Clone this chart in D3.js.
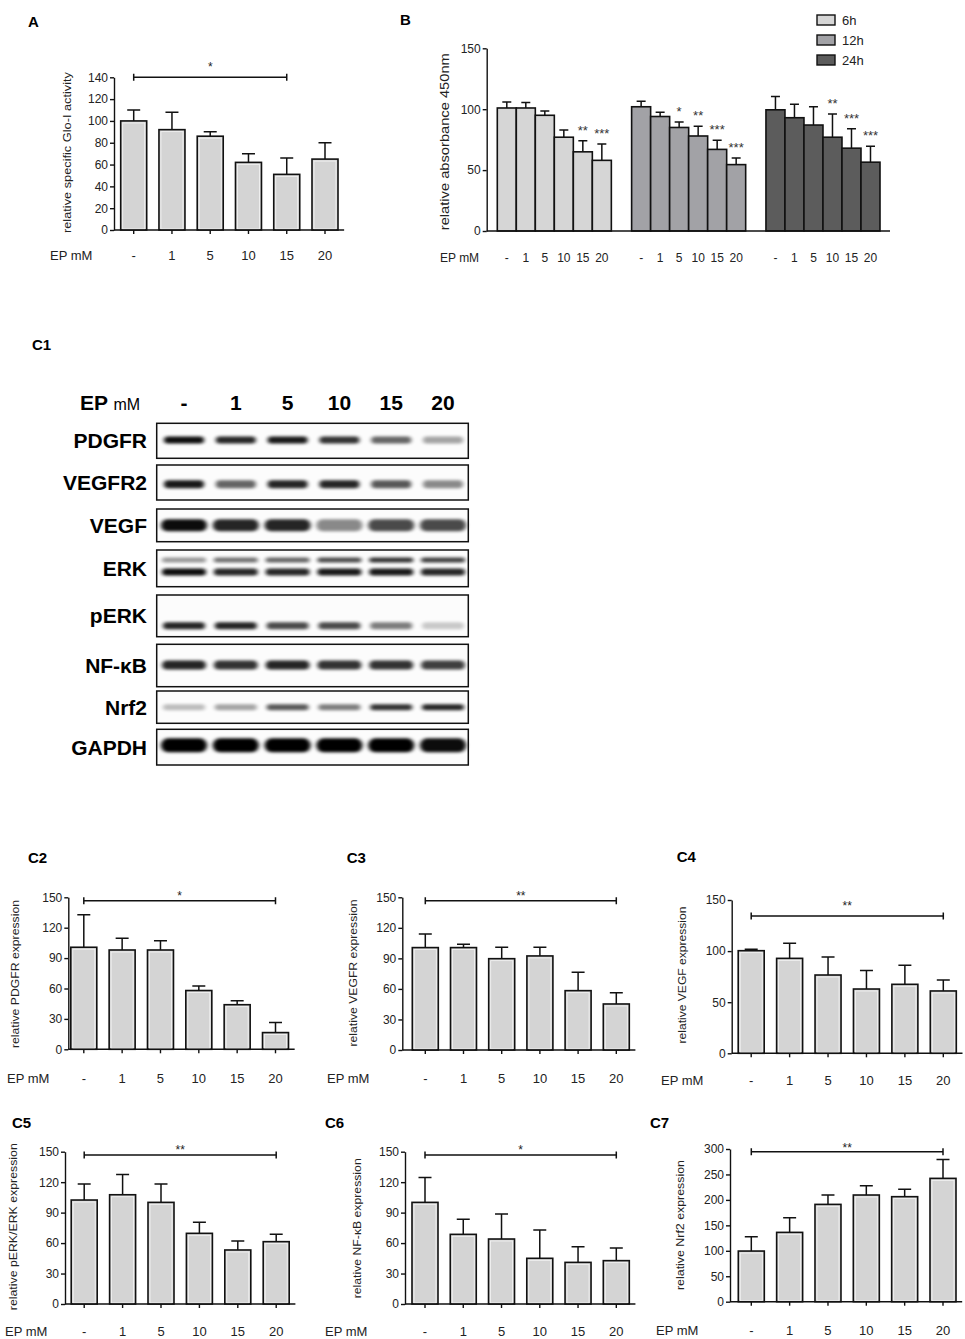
<!DOCTYPE html>
<html>
<head>
<meta charset="utf-8">
<script src="https://cdn.jsdelivr.net/npm/d3@7"></script>
<style>
  body { margin: 0; background: #fff; }
  svg { display: block; font-family: "Liberation Sans", Arial, sans-serif; }
  .axis path, .axis line, .axisline { stroke: #111; stroke-width: 1.4; fill: none; }
  .axis text { fill: #222; font-size: 12px; font-family: "Liberation Sans", Arial, sans-serif; }
  .xlab text { fill: #222; font-size: 13px; font-family: "Liberation Sans", Arial, sans-serif; }
  .bar { stroke: #111; stroke-width: 1.6; }
  .inner { fill: none; stroke: #f4f4f4; stroke-width: 0.8; }
  .err, .sig { stroke: #111; stroke-width: 1.5; fill: none; }
  .star { fill: #222; font-size: 12px; }
  .panel { font-weight: bold; font-size: 15px; fill: #000; }
  .ylab { fill: #222; }
  .blot text { font-weight: bold; font-size: 21px; fill: #000; }
</style>
</head>
<body>
<svg id="canvas" width="965" height="1339" viewBox="0 0 965 1339"></svg>
<script>
  let svg = d3.select("svg");

  // ---- data ----
  const doses = ["-", "1", "5", "10", "15", "20"];

  // A: Glo-I activity
  const gloMean = [100, 92, 86, 62, 51, 65];
  const gloSd   = [10, 16, 4, 8, 15, 15];

  // B: absorbance at 3 time points
  const timePoints  = ["6h", "12h", "24h"];
  const abs6hMean   = [101, 101, 95, 77, 65, 58];
  const abs6hSd     = [5, 4.5, 3.5, 6, 9, 13.5];
  const abs6hStars  = ["", "", "", "", "**", "***"];
  const abs12hMean  = [102, 94, 85, 78, 67, 54.5];
  const abs12hSd    = [4.5, 3.5, 4.5, 8, 7.5, 5.5];
  const abs12hStars = ["", "", "*", "**", "***", "***"];
  const abs24hMean  = [99.5, 93, 87, 77, 68, 56.5];
  const abs24hSd    = [11, 11, 15, 19, 16, 13];
  const abs24hStars = ["", "", "", "**", "***", "***"];

  // C1: western blot band intensities (0..1)
  const blotTargets  = ["PDGFR", "VEGFR2", "VEGF", "ERK", "pERK", "NF-κB", "Nrf2", "GAPDH"];
  const pdgfrBand    = [0.95, 0.85, 0.9, 0.8, 0.6, 0.35];
  const vegfr2Band   = [0.9, 0.6, 0.85, 0.85, 0.65, 0.45];
  const vegfBand     = [0.95, 0.85, 0.85, 0.45, 0.7, 0.7];
  const erkUpperBand = [0.4, 0.55, 0.6, 0.7, 0.8, 0.75];
  const erkLowerBand = [0.95, 0.85, 0.85, 0.9, 0.9, 0.85];
  const perkBand     = [0.85, 0.85, 0.7, 0.7, 0.5, 0.2];
  const nfkbBand     = [0.85, 0.8, 0.85, 0.8, 0.8, 0.75];
  const nrf2Band     = [0.25, 0.35, 0.65, 0.5, 0.8, 0.85];
  const gapdhBand    = [1, 1, 1, 1, 1, 0.95];

  // C2-C7: relative expression
  const pdgfrMean = [100.7, 98, 98, 58, 44, 16.5];
  const pdgfrSd   = [32, 11.5, 9, 4.5, 4, 10];
  const vegfrMean = [100.6, 100.6, 89.7, 92.4, 58.3, 45.2];
  const vegfrSd   = [13.4, 3.2, 11.2, 8.5, 18, 11];
  const vegfMean  = [100.4, 92.9, 76.6, 62.9, 67.5, 61];
  const vegfSd    = [1.3, 14.7, 17.6, 18, 18.6, 10.7];
  const perkMean  = [102.4, 107.6, 100.1, 69.6, 53.2, 61.4];
  const perkSd    = [15.7, 20, 18, 10.8, 8.8, 7.2];
  const nfkbMean  = [100.1, 68.6, 64, 45, 41, 42.7];
  const nfkbSd    = [24.6, 14.8, 24.6, 28, 15.4, 12.4];
  const nrf2Mean  = [99.5, 136.2, 191.2, 209.6, 206.3, 242.3];
  const nrf2Sd    = [28.2, 28.8, 18.4, 18.3, 14.4, 37.3];

  // ---- layout of the single-series panels ----
  const barPanels = [
    { name: "A", lx: 28, ly: 27, mean: gloMean, sd: gloSd, max: 140, tick: 20, sig: "*", sigTo: "15", bracket: 140, starDy: 6,
      axisX: 114, c1: 133.7, c6: 325, y0: 230, yTop: 77.3, labY: 260, epX: 50,
      yLabel: "relative specific Glo-I activity", ylx: 67, yly: 152.5, ylLen: 161, ylSize: 10 },
    { name: "C2", lx: 28, ly: 863, mean: pdgfrMean, sd: pdgfrSd, max: 150, tick: 30, sig: "*", sigTo: "20", bracket: 146.7, starDy: 1,
      axisX: 68.3, c1: 83.8, c6: 275.5, y0: 1049.3, yTop: 897.3, labY: 1083, epX: 7,
      yLabel: "relative PDGFR expression", ylx: 15, yly: 974, ylLen: 148, ylSize: 10.5 },
    { name: "C3", lx: 346.7, ly: 863, mean: vegfrMean, sd: vegfrSd, max: 150, tick: 30, sig: "**", sigTo: "20", bracket: 146.7, starDy: 1,
      axisX: 402.3, c1: 425.3, c6: 616.3, y0: 1050, yTop: 897.3, labY: 1083, epX: 327,
      yLabel: "relative VEGFR expression", ylx: 353, yly: 973, ylLen: 147, ylSize: 10.5 },
    { name: "C4", lx: 676.7, ly: 862, mean: vegfMean, sd: vegfSd, max: 150, tick: 50, sig: "**", sigTo: "20", bracket: 134.3, starDy: 6,
      axisX: 731.7, c1: 751.2, c6: 943.3, y0: 1053.3, yTop: 900, labY: 1085, epX: 661,
      yLabel: "relative VEGF expression", ylx: 682, yly: 975, ylLen: 137, ylSize: 10.5 },
    { name: "C5", lx: 12, ly: 1128, mean: perkMean, sd: perkSd, max: 150, tick: 30, sig: "**", sigTo: "20", bracket: 146.7, starDy: 1.5,
      axisX: 65, c1: 84.2, c6: 276.2, y0: 1304, yTop: 1151.7, labY: 1336, epX: 5,
      yLabel: "relative pERK/ERK expression", ylx: 13, yly: 1226.7, ylLen: 167, ylSize: 10.5 },
    { name: "C6", lx: 325, ly: 1128, mean: nfkbMean, sd: nfkbSd, max: 150, tick: 30, sig: "*", sigTo: "20", bracket: 146.7, starDy: 1.5,
      axisX: 405, c1: 425, c6: 616.3, y0: 1304, yTop: 1151.7, labY: 1336, epX: 325,
      yLabel: "relative NF-κB expression", ylx: 357, yly: 1228.3, ylLen: 140, ylSize: 10.5 },
    { name: "C7", lx: 650, ly: 1128, mean: nrf2Mean, sd: nrf2Sd, max: 300, tick: 50, sig: "**", sigTo: "20", bracket: 294.7, starDy: 0,
      axisX: 730, c1: 751.3, c6: 943, y0: 1301.7, yTop: 1149, labY: 1335, epX: 656,
      yLabel: "relative Nrf2 expression", ylx: 680, yly: 1225, ylLen: 130, ylSize: 10.5 }
  ];

  barPanels.forEach(drawBarPanel);
  drawAbsorbance();
  drawBlot();

  function drawBarPanel(p) {
    const g = svg.append("g");
    const step = (p.c6 - p.c1) / (doses.length - 1);
    const pad = 1 - 26 / step;
    const x = d3.scaleBand().domain(doses)
        .range([p.c1 - step / 2, p.c6 + step / 2])
        .paddingInner(pad).paddingOuter(pad / 2);
    const y = d3.scaleLinear().domain([0, p.max]).range([p.y0, p.yTop]);
    const bw = x.bandwidth();

    // error whiskers (upper only)
    doses.forEach((d, i) => {
      const cx = x(d) + bw / 2;
      const top = y(p.mean[i] + p.sd[i]);
      g.append("path").attr("class", "err")
          .attr("d", `M ${cx},${y(p.mean[i])} L ${cx},${top} M ${cx - 6.5},${top} L ${cx + 6.5},${top}`);
    });

    g.selectAll("rect.bar").data(doses).join("rect")
        .attr("class", "bar").attr("fill", "#d4d4d4")
        .attr("x", d => x(d)).attr("width", bw)
        .attr("y", (d, i) => y(p.mean[i]))
        .attr("height", (d, i) => p.y0 - y(p.mean[i]));
    g.selectAll("rect.inner").data(doses).join("rect")
        .attr("class", "inner")
        .attr("x", d => x(d) + 2).attr("width", bw - 4)
        .attr("y", (d, i) => y(p.mean[i]) + 2)
        .attr("height", (d, i) => Math.max(0, p.y0 - y(p.mean[i]) - 3));

    // axes
    g.append("g").attr("class", "axis").attr("transform", `translate(${p.axisX},0)`)
        .call(d3.axisLeft(y).tickValues(d3.range(0, p.max + 1, p.tick)).tickSize(4).tickPadding(2).tickSizeOuter(0));
    const xt = g.append("g").attr("class", "axis").attr("transform", `translate(0,${p.y0})`)
        .call(d3.axisBottom(x).tickSize(4).tickFormat(""));
    xt.select(".domain").remove();
    g.append("line").attr("class", "axisline")
        .attr("x1", p.axisX).attr("x2", x.range()[1]).attr("y1", p.y0).attr("y2", p.y0);

    const xl = g.append("g").attr("class", "xlab").attr("transform", `translate(0,${p.labY})`)
        .call(d3.axisBottom(x).tickSize(0).tickPadding(0));
    xl.select(".domain").remove();
    xl.selectAll("text").attr("y", 0).attr("dy", 0);
    g.append("text").attr("x", p.epX).attr("y", p.labY)
        .attr("font-size", 13).attr("fill", "#222").text("EP mM");

    // significance bracket
    const bx1 = x(doses[0]) + bw / 2, bx2 = x(p.sigTo) + bw / 2, by = y(p.bracket);
    g.append("path").attr("class", "sig")
        .attr("d", `M ${bx1},${by} L ${bx2},${by} M ${bx1},${by - 3.5} L ${bx1},${by + 3.5} M ${bx2},${by - 3.5} L ${bx2},${by + 3.5}`);
    g.append("text").attr("class", "star").attr("text-anchor", "middle")
        .attr("x", (bx1 + bx2) / 2).attr("y", by - p.starDy).text(p.sig);

    // labels
    g.append("text").attr("class", "ylab")
        .attr("transform", `translate(${p.ylx},${p.yly}) rotate(-90)`)
        .attr("text-anchor", "middle").attr("dominant-baseline", "central")
        .attr("font-size", p.ylSize)
        .attr("textLength", p.ylLen).attr("lengthAdjust", "spacingAndGlyphs")
        .text(p.yLabel);
    g.append("text").attr("class", "panel").attr("x", p.lx).attr("y", p.ly).text(p.name);
  }

  function drawAbsorbance() {
    const g = svg.append("g");
    const series = [
      { t: "6h", mean: abs6hMean, sd: abs6hSd, stars: abs6hStars, color: "#d6d6d6" },
      { t: "12h", mean: abs12hMean, sd: abs12hSd, stars: abs12hStars, color: "#a2a2a6" },
      { t: "24h", mean: abs24hMean, sd: abs24hSd, stars: abs24hStars, color: "#5c5c5c" }
    ];
    const y0 = 231;
    const xg = d3.scaleBand().domain(timePoints).range([497.3, 880]).paddingInner(0.151).paddingOuter(0);
    const xd = d3.scaleBand().domain(doses).range([0, xg.bandwidth()]);
    const y = d3.scaleLinear().domain([0, 150]).range([y0, 48.3]);
    const bw = xd.bandwidth();

    series.forEach(s => {
      const sg = g.append("g").attr("transform", `translate(${xg(s.t)},0)`);
      doses.forEach((d, i) => {
        const cx = xd(d) + bw / 2;
        const top = y(s.mean[i] + s.sd[i]);
        sg.append("path").attr("class", "err")
            .attr("d", `M ${cx},${y(s.mean[i])} L ${cx},${top} M ${cx - 4.5},${top} L ${cx + 4.5},${top}`);
        if (s.stars[i]) {
          sg.append("text").attr("text-anchor", "middle").attr("font-size", 13).attr("fill", "#333")
              .attr("x", cx).attr("y", top - 6).text(s.stars[i]);
        }
      });
      sg.selectAll("rect").data(doses).join("rect")
          .attr("class", "bar").attr("fill", s.color)
          .attr("x", d => xd(d)).attr("width", bw)
          .attr("y", (d, i) => y(s.mean[i]))
          .attr("height", (d, i) => y0 - y(s.mean[i]));
      const xl = sg.append("g").attr("class", "xlab").attr("transform", "translate(0,262)")
          .call(d3.axisBottom(xd).tickSize(0).tickPadding(0));
      xl.select(".domain").remove();
      xl.selectAll("text").attr("y", 0).attr("dy", 0).style("font-size", "12px");
    });

    g.append("g").attr("class", "axis").attr("transform", "translate(486.7,0)")
        .call(d3.axisLeft(y).tickValues([0, 50, 100, 150]).tickSize(4).tickPadding(2).tickSizeOuter(0));
    g.append("line").attr("class", "axisline").attr("x1", 486.7).attr("x2", 890).attr("y1", y0).attr("y2", y0);

    g.append("text").attr("x", 440).attr("y", 262).attr("font-size", 12).attr("fill", "#222").text("EP mM");
    g.append("text").attr("class", "ylab")
        .attr("transform", "translate(444,141.7) rotate(-90)")
        .attr("text-anchor", "middle").attr("dominant-baseline", "central")
        .attr("font-size", 13).attr("textLength", 177).attr("lengthAdjust", "spacingAndGlyphs")
        .text("relative absorbance 450nm");
    g.append("text").attr("class", "panel").attr("x", 400).attr("y", 25).text("B");

    // legend
    const leg = g.selectAll("g.leg").data(series).join("g")
        .attr("transform", (d, i) => `translate(817,${15 + i * 20})`);
    leg.append("rect").attr("width", 18).attr("height", 10)
        .attr("fill", d => d.color).attr("stroke", "#111").attr("stroke-width", 1.4);
    leg.append("text").attr("x", 25).attr("y", 10).attr("font-size", 13).attr("fill", "#222").text(d => d.t);
  }

  function drawBlot() {
    const g = svg.append("g").attr("class", "blot");
    g.append("defs").append("filter").attr("id", "blur")
        .attr("x", "-30%").attr("y", "-150%").attr("width", "160%").attr("height", "400%")
        .append("feGaussianBlur").attr("stdDeviation", "2.2 1.7");

    const lane = d3.scalePoint().domain(doses).range([184, 443]);
    const rows = [
      { top: 423.3, bottom: 458.3, w: 40, bands: [{ v: pdgfrBand, f: 0.48, th: 7 }] },
      { top: 465, bottom: 500, w: 40, bands: [{ v: vegfr2Band, f: 0.55, th: 8 }] },
      { top: 509, bottom: 541.7, w: 46, bands: [{ v: vegfBand, f: 0.5, th: 12 }] },
      { top: 550, bottom: 586.7, w: 44, bands: [{ v: erkUpperBand, f: 0.27, th: 5 }, { v: erkLowerBand, f: 0.6, th: 7 }] },
      { top: 595, bottom: 636.7, w: 42, bands: [{ v: perkBand, f: 0.74, th: 7 }] },
      { top: 644.3, bottom: 686.7, w: 44, bands: [{ v: nfkbBand, f: 0.49, th: 9 }] },
      { top: 691, bottom: 723.3, w: 42, bands: [{ v: nrf2Band, f: 0.5, th: 6 }] },
      { top: 729.3, bottom: 765, w: 46, bands: [{ v: gapdhBand, f: 0.45, th: 14 }] }
    ];

    rows.forEach((r, k) => {
      const h = r.bottom - r.top;
      g.append("rect").attr("x", 156.7).attr("y", r.top).attr("width", 311.6).attr("height", h)
          .attr("fill", "#fcfcfc").attr("stroke", "#111").attr("stroke-width", 1.5);
      r.bands.forEach(b => {
        g.append("g").selectAll("rect").data(doses).join("rect")
            .attr("x", d => lane(d) - r.w / 2).attr("width", r.w)
            .attr("y", r.top + b.f * h - b.th / 2).attr("height", b.th)
            .attr("rx", b.th / 2)
            .attr("fill", "#000").attr("opacity", (d, i) => b.v[i])
            .attr("filter", "url(#blur)");
      });
      g.append("text").attr("x", 147).attr("y", (r.top + r.bottom) / 2 + 7.5)
          .attr("text-anchor", "end").text(blotTargets[k]);
    });

    g.selectAll("text.lane").data(doses).join("text").attr("class", "lane")
        .attr("x", d => lane(d)).attr("y", 410).attr("text-anchor", "middle").text(d => d);
    const ep = g.append("text").attr("x", 80).attr("y", 410);
    ep.append("tspan").text("EP ");
    ep.append("tspan").attr("font-weight", "normal").style("font-size", "16px").text("mM");
    svg.append("text").attr("class", "panel").attr("x", 32).attr("y", 350).text("C1");
  }
</script>
</body>
</html>
